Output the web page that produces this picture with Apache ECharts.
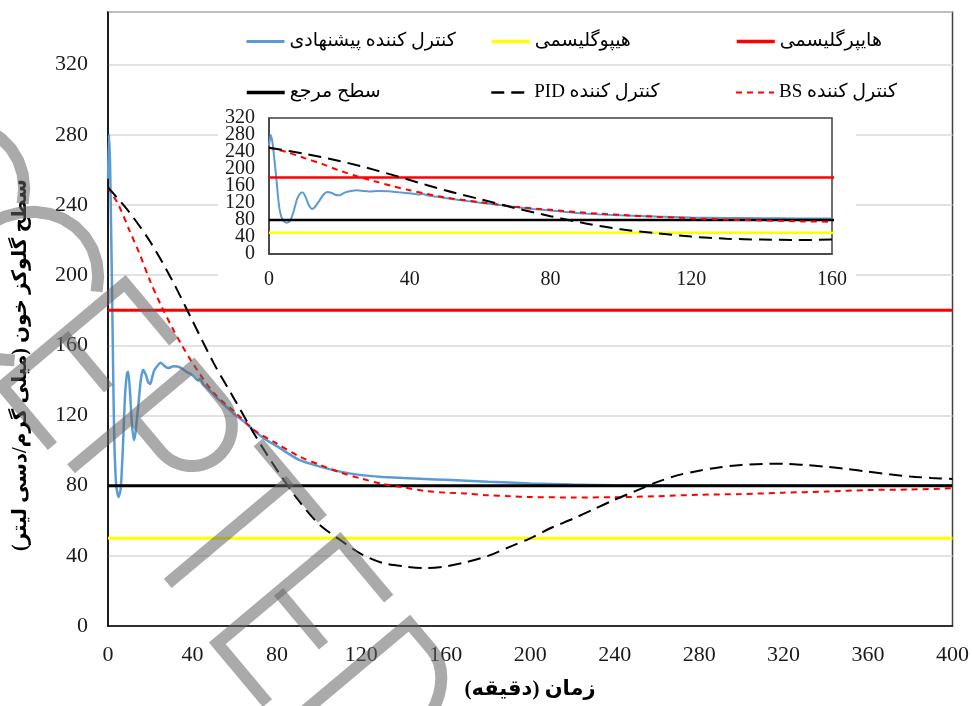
<!DOCTYPE html>
<html>
<head>
<meta charset="utf-8">
<script src="https://cdn.jsdelivr.net/npm/echarts@6/dist/echarts.min.js"></script>
<style>
  html, body { margin: 0; padding: 0; background: #fff; }
  #chart { width: 972px; height: 706px; }
</style>
</head>
<body>
<div id="chart"></div>
<script>
// time (min) / glucose (mg/dl) pairs
const proposed = [[0,255],[0.5,280],[1,262],[1.5,225],[2,185],[2.5,140],[3,105],[3.5,88],[4,79],[5,73.5],[6,78],[7,100],[8,130],[9,144],[9.6,145],[10.5,132],[11.2,117],[12.2,106],[13,110],[14.3,125],[15.5,140],[16.6,146],[18,143],[19,139],[20,138],[21,142],[22,146],[25,150],[27,148],[28.5,147],[31,148],[34,147.5],[37,145],[40,143],[42.5,140],[43.8,141],[45,138],[48,134.5],[52,129.5],[56,125],[60,120.5],[65,116],[70,110.5],[75,106],[80,102.5],[90,95],[100,91],[110,88],[120,86],[130,85],[140,84.3],[150,83.8],[160,83.3],[180,82.2],[200,81.3],[220,80.7],[240,80.2],[260,80],[400,80]];
const pid = [[0,250],[10,236],[20,219],[30,198],[40,174],[50,150],[60,129],[70,108],[80,89],[90,72],[100,58],[110,49],[120,41],[130,36],[140,34],[150,33],[160,34],[170,36.5],[180,40],[190,45],[200,50],[210,56],[220,61],[230,66.5],[240,72],[250,77],[260,82],[270,86],[280,88.5],[290,90.5],[300,91.8],[310,92.4],[320,92.5],[330,91.8],[340,90.8],[350,89.5],[360,88],[370,86.5],[380,85.2],[390,84.4],[400,83.8]];
const bs = [[0,250],[5,240],[10,226],[15,212],[20,196.5],[25,183],[30,171],[35,160],[40,150],[50,133],[60,122],[70,111],[80,104],[90,97],[100,92],[110,87.5],[120,84],[130,81],[140,79],[150,77],[160,76],[170,75.5],[180,74.5],[190,74],[200,73.5],[220,73.3],[240,73.4],[260,74],[280,74.8],[300,75.2],[320,76],[340,76.6],[360,77.5],[380,77.8],[400,78.5]];
const hyper = [[0,180],[400,180]];
const hypo = [[0,50],[400,50]];
const reference = [[0,80],[400,80]];

const names = {
    proposed: 'کنترل کننده پیشنهادی',
    hypo: 'هیپوگلیسمی',
    hyper: 'هایپرگلیسمی',
    reference: 'سطح مرجع',
    pid: 'PID کنترل کننده',
    bs: 'BS کنترل کننده'
};

const numFont = '"Liberation Serif", "Times New Roman", serif';
const faFont = '"Liberation Serif", "DejaVu Sans", serif';

let myChart = echarts.init(document.getElementById('chart'));

function lines(xi, inset) {
    let w = inset ? 0.8 : 1;
    return [
        { name: names.proposed, data: proposed, color: '#5b9bd5', width: 2.5 * w, type: 'solid', smooth: 0.2 },
        { name: names.hypo, data: hypo, color: '#ffff00', width: 3 * w, type: 'solid' },
        { name: names.hyper, data: hyper, color: '#ff0000', width: 3 * w, type: 'solid' },
        { name: names.reference, data: reference, color: '#000000', width: 3 * w, type: 'solid' },
        { name: names.bs, data: bs, color: '#ff0000', width: 2, type: [6, 5], smooth: 0.3 },
        { name: names.pid, data: pid, color: '#000000', width: 2, type: [13, 7], smooth: 0.3 }
    ].map(s => ({
        name: inset ? s.name + ' ' : s.name,
        type: 'line',
        xAxisIndex: xi,
        yAxisIndex: xi,
        data: s.data,
        symbol: 'none',
        smooth: s.smooth || false,
        z: inset ? 5 : 2,
        color: s.color,
        lineStyle: { color: s.color, width: s.width, type: s.type },
        emphasis: { disabled: true },
        animation: false
    }));
}

function legendAt(name, left, top, lw) {
    return {
        data: [name], left: left, top: top,
        itemWidth: 38, itemHeight: 16,
        itemStyle: { opacity: 0 },
        lineStyle: { width: lw },
        textStyle: { fontFamily: faFont, fontSize: 19, color: '#000' },
        selectedMode: false
    };
}

// watermark "ACCEPTED": letter strokes in local coords, letter centre at 0,0
function arcPts(cx, cy, rx, ry, a0, a1) {
    let pts = [];
    for (let i = 0; i <= 24; i++) {
        let a = (a0 + (a1 - a0) * i / 24) * Math.PI / 180;
        pts.push([cx + rx * Math.cos(a), cy + ry * Math.sin(a)]);
    }
    return pts;
}
const wmStrokes = {
    A: [[[-58, 80], [0, -80], [58, 80]], [[-38, 30], [38, 30]]],
    C: [arcPts(8, 0, 70, 80, -42, -318)],
    E: [[[38, -80], [-38, -80], [-38, 80], [40, 80]], [[-38, 0], [32, 0]]],
    P: [[[-40, 80], [-40, -80], [5, -80]].concat(arcPts(5, -40, 40, 40, -90, 90)).concat([[-40, 0]])],
    T: [[[-50, -80], [50, -80]], [[0, -80], [0, 80]]],
    D: [[[-45, 80], [-45, -80], [-10, -80]].concat(arcPts(-10, 0, 55, 80, -90, 90)).concat([[-45, 80]])]
};
const wmLetters = ['A', 'C', 'C', 'E', 'P', 'T', 'E', 'D'];
const wmX = [-131, -57, 17, 88, 158, 229, 303, 377];
const wmY = [104, 192, 280, 364, 448, 532, 621, 709];

let watermark = wmLetters.map((ch, i) => ({
    type: 'group', x: wmX[i], y: wmY[i], rotation: -0.873, silent: true,
    children: wmStrokes[ch].map(pts => ({
        type: 'polyline', z: 100, silent: true,
        shape: { points: pts },
        style: { fill: null, stroke: 'rgba(100,100,100,0.55)', lineWidth: 12, lineJoin: 'miter' }
    }))
}));

const insetLabel = { fontFamily: numFont, fontSize: 20, lineHeight: 13, color: '#1a1a1a' };

myChart.setOption({
    animation: false,
    backgroundColor: '#fff',
    grid: [
        { left: 108, top: 12, right: 15, bottom: 80, show: true, borderColor: '#404040', borderWidth: 1.5 },
        { left: 269, top: 118, width: 563, height: 136, show: true, borderColor: '#404040', borderWidth: 1.5, backgroundColor: '#fff', z: 4 }
    ],
    legend: [
        legendAt(names.proposed, 240, 27, 3),
        legendAt(names.hypo, 485, 27, 3.5),
        legendAt(names.hyper, 730, 27, 3.5),
        legendAt(names.reference, 240, 78, 3.5),
        legendAt(names.pid, 485, 78, 2.5),
        legendAt(names.bs, 730, 78, 2)
    ],
    xAxis: [{
        type: 'value', gridIndex: 0, min: 0, max: 400, interval: 40,
        axisLine: { lineStyle: { color: '#000', width: 1.5 } },
        axisTick: { show: false },
        splitLine: { show: false },
        axisLabel: { margin: 18, fontFamily: numFont, fontSize: 22, color: '#1a1a1a' }
    }, {
        type: 'value', gridIndex: 1, min: 0, max: 160, interval: 40, z: 5,
        axisLine: { lineStyle: { color: '#404040', width: 1.5 } },
        axisTick: { show: false },
        splitLine: { show: false },
        axisLabel: { margin: 16, fontFamily: numFont, fontSize: 20, color: '#1a1a1a', showMinLabel: true, showMaxLabel: true }
    }],
    yAxis: [{
        type: 'value', gridIndex: 0, min: 0, max: 350, interval: 40,
        axisLine: { show: true, lineStyle: { color: '#000', width: 1.5 } },
        axisTick: { show: false },
        splitLine: { lineStyle: { color: '#d9d9d9', width: 1.5 } },
        axisLabel: { margin: 20, showMaxLabel: false, fontFamily: numFont, fontSize: 22, color: '#1a1a1a' }
    }, {
        // inset: inner tick labels 40..280
        type: 'value', gridIndex: 1, position: 'left', min: 0, max: 320, interval: 40, z: 5,
        axisLine: { show: true, lineStyle: { color: '#404040', width: 1.5 } },
        axisTick: { show: false },
        splitLine: { show: false },
        axisLabel: Object.assign({ margin: 14, showMinLabel: false, showMaxLabel: false }, insetLabel)
    }, {
        // inset: end labels 0 and 320
        type: 'value', gridIndex: 1, position: 'left', offset: 0, min: 0, max: 320, interval: 320, z: 5,
        axisLine: { show: false },
        axisTick: { show: false },
        splitLine: { show: false },
        axisLabel: Object.assign({ margin: 14, showMinLabel: true, showMaxLabel: true }, insetLabel)
    }],
    graphic: [
        // white panel behind the inset
        { type: 'rect', z: 1, silent: true, shape: { x: 218, y: 103, width: 638, height: 195 }, style: { fill: '#fff' } },
        { type: 'text', z: 10, silent: true, x: 21, y: 365, rotation: Math.PI / 2,
          style: { text: 'سطح گلوکز خون (میلی گرم/دسی لیتر)\u200F', font: 'bold 20px ' + faFont, fill: '#000', align: 'center', verticalAlign: 'middle' } },
        { type: 'text', z: 10, silent: true, x: 530, y: 690,
          style: { text: 'زمان (دقیقه)\u200F', font: 'bold 21px ' + faFont, fill: '#000', align: 'center', verticalAlign: 'middle' } }
    ].concat(watermark),
    series: lines(0, false).concat(lines(1, true))
});
</script>
</body>
</html>
